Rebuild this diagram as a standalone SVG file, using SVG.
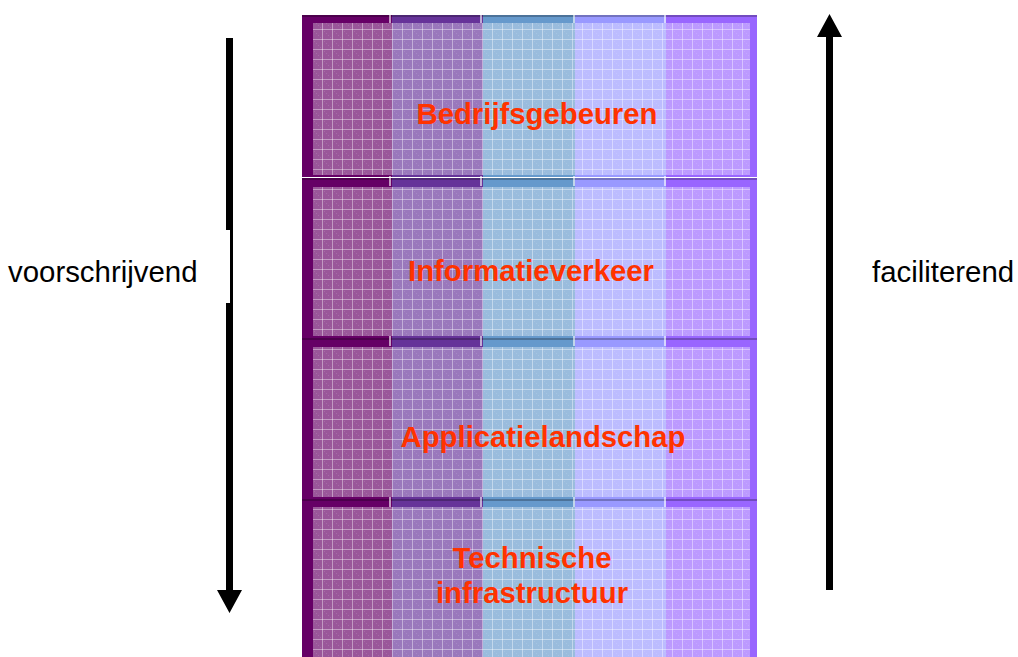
<svg xmlns="http://www.w3.org/2000/svg" width="1018" height="657" viewBox="0 0 1018 657">
<style>
.c1{fill:#660066}.c2{fill:#663399}.c3{fill:#6699cc}.c4{fill:#9999ff}.c5{fill:#9966ff}
.ov{fill:#ffffff;fill-opacity:0.34}
.gr{fill:url(#grid)}
.edge{fill:#000000;fill-opacity:0.25}
.gap{fill:#ffffff;fill-opacity:0.6}
.lbl{font-family:"Liberation Sans",Arial,sans-serif;font-weight:bold;font-size:29.3px;fill:#ff3300;text-anchor:middle}
.side{font-family:"Liberation Sans",Arial,sans-serif;font-size:29.4px;fill:#000000}
.arrow{fill:#000000}
</style>
<defs>
<pattern id="grid" x="313" y="0" width="10" height="10" patternUnits="userSpaceOnUse">
<rect x="0" y="0" width="10" height="10" fill="none"/>
<rect x="1" y="1" width="1" height="1" fill="#ffffff" fill-opacity="0.12"/>
<rect x="3" y="3" width="1" height="1" fill="#ffffff" fill-opacity="0.12"/>
<rect x="5" y="5" width="1" height="1" fill="#ffffff" fill-opacity="0.12"/>
<rect x="7" y="7" width="1" height="1" fill="#ffffff" fill-opacity="0.12"/>
<rect x="9" y="0" width="1" height="10" fill="#ffffff" fill-opacity="0.4"/>
<rect x="0" y="9" width="10" height="1" fill="#ffffff" fill-opacity="0.4"/>
</pattern>
</defs>

<g id="row1">
<rect class="c1" x="302" y="15" width="90" height="162"/>
<rect class="c2" x="392" y="15" width="91" height="162"/>
<rect class="c3" x="483" y="15" width="92" height="162"/>
<rect class="c4" x="575" y="15" width="91" height="162"/>
<rect class="c5" x="666" y="15" width="91" height="162"/>
<rect class="edge" x="302" y="15" width="455" height="2"/>
<rect class="gap" x="389" y="13" width="2" height="10"/>
<rect class="gap" x="480" y="13" width="2" height="10"/>
<rect class="gap" x="573" y="13" width="2" height="10"/>
<rect class="gap" x="664" y="13" width="2" height="10"/>
<rect class="ov" x="313" y="23" width="437" height="152"/>
<rect class="gr" x="313" y="23" width="437" height="152"/>
<text class="lbl" x="537" y="124">Bedrijfsgebeuren</text>
</g>

<g id="row2">
<rect class="c1" x="302" y="178" width="90" height="160"/>
<rect class="c2" x="392" y="178" width="91" height="160"/>
<rect class="c3" x="483" y="178" width="92" height="160"/>
<rect class="c4" x="575" y="178" width="91" height="160"/>
<rect class="c5" x="666" y="178" width="91" height="160"/>
<rect class="edge" x="302" y="178" width="455" height="2"/>
<rect class="gap" x="389" y="176" width="2" height="10"/>
<rect class="gap" x="480" y="176" width="2" height="10"/>
<rect class="gap" x="573" y="176" width="2" height="10"/>
<rect class="gap" x="664" y="176" width="2" height="10"/>
<rect class="ov" x="313" y="187" width="437" height="149"/>
<rect class="gr" x="313" y="187" width="437" height="149"/>
<text class="lbl" x="531" y="281">Informatieverkeer</text>
</g>

<g id="row3">
<rect class="c1" x="302" y="338" width="90" height="161"/>
<rect class="c2" x="392" y="338" width="91" height="161"/>
<rect class="c3" x="483" y="338" width="92" height="161"/>
<rect class="c4" x="575" y="338" width="91" height="161"/>
<rect class="c5" x="666" y="338" width="91" height="161"/>
<rect class="edge" x="302" y="338" width="455" height="2"/>
<rect class="gap" x="389" y="336" width="2" height="10"/>
<rect class="gap" x="480" y="336" width="2" height="10"/>
<rect class="gap" x="573" y="336" width="2" height="10"/>
<rect class="gap" x="664" y="336" width="2" height="10"/>
<rect class="ov" x="313" y="347" width="437" height="150"/>
<rect class="gr" x="313" y="347" width="437" height="150"/>
<text class="lbl" x="543" y="447">Applicatielandschap</text>
</g>

<g id="row4">
<rect class="c1" x="302" y="499" width="90" height="160"/>
<rect class="c2" x="392" y="499" width="91" height="160"/>
<rect class="c3" x="483" y="499" width="92" height="160"/>
<rect class="c4" x="575" y="499" width="91" height="160"/>
<rect class="c5" x="666" y="499" width="91" height="160"/>
<rect class="edge" x="302" y="499" width="455" height="2"/>
<rect class="gap" x="389" y="497" width="2" height="10"/>
<rect class="gap" x="480" y="497" width="2" height="10"/>
<rect class="gap" x="573" y="497" width="2" height="10"/>
<rect class="gap" x="664" y="497" width="2" height="10"/>
<rect class="ov" x="313" y="507" width="437" height="152"/>
<rect class="gr" x="313" y="507" width="437" height="152"/>
<text class="lbl" x="532" y="568">Technische</text>
<text class="lbl" x="532" y="603">infrastructuur</text>
</g>

<g id="connectors">
<polygon class="arrow" points="226,38 233,38 233,590 242,590 229.5,613 217,590 226,590 226,303 230,303 230,230 226,230"/>
<polygon class="arrow" points="829.5,14 842,37 833,37 833,590 826,590 826,37 817,37"/>
</g>

<g id="label-left">
<text class="side" x="8" y="282">voorschrijvend</text>
</g>
<g id="label-right">
<text class="side" x="872" y="282">faciliterend</text>
</g>
</svg>
